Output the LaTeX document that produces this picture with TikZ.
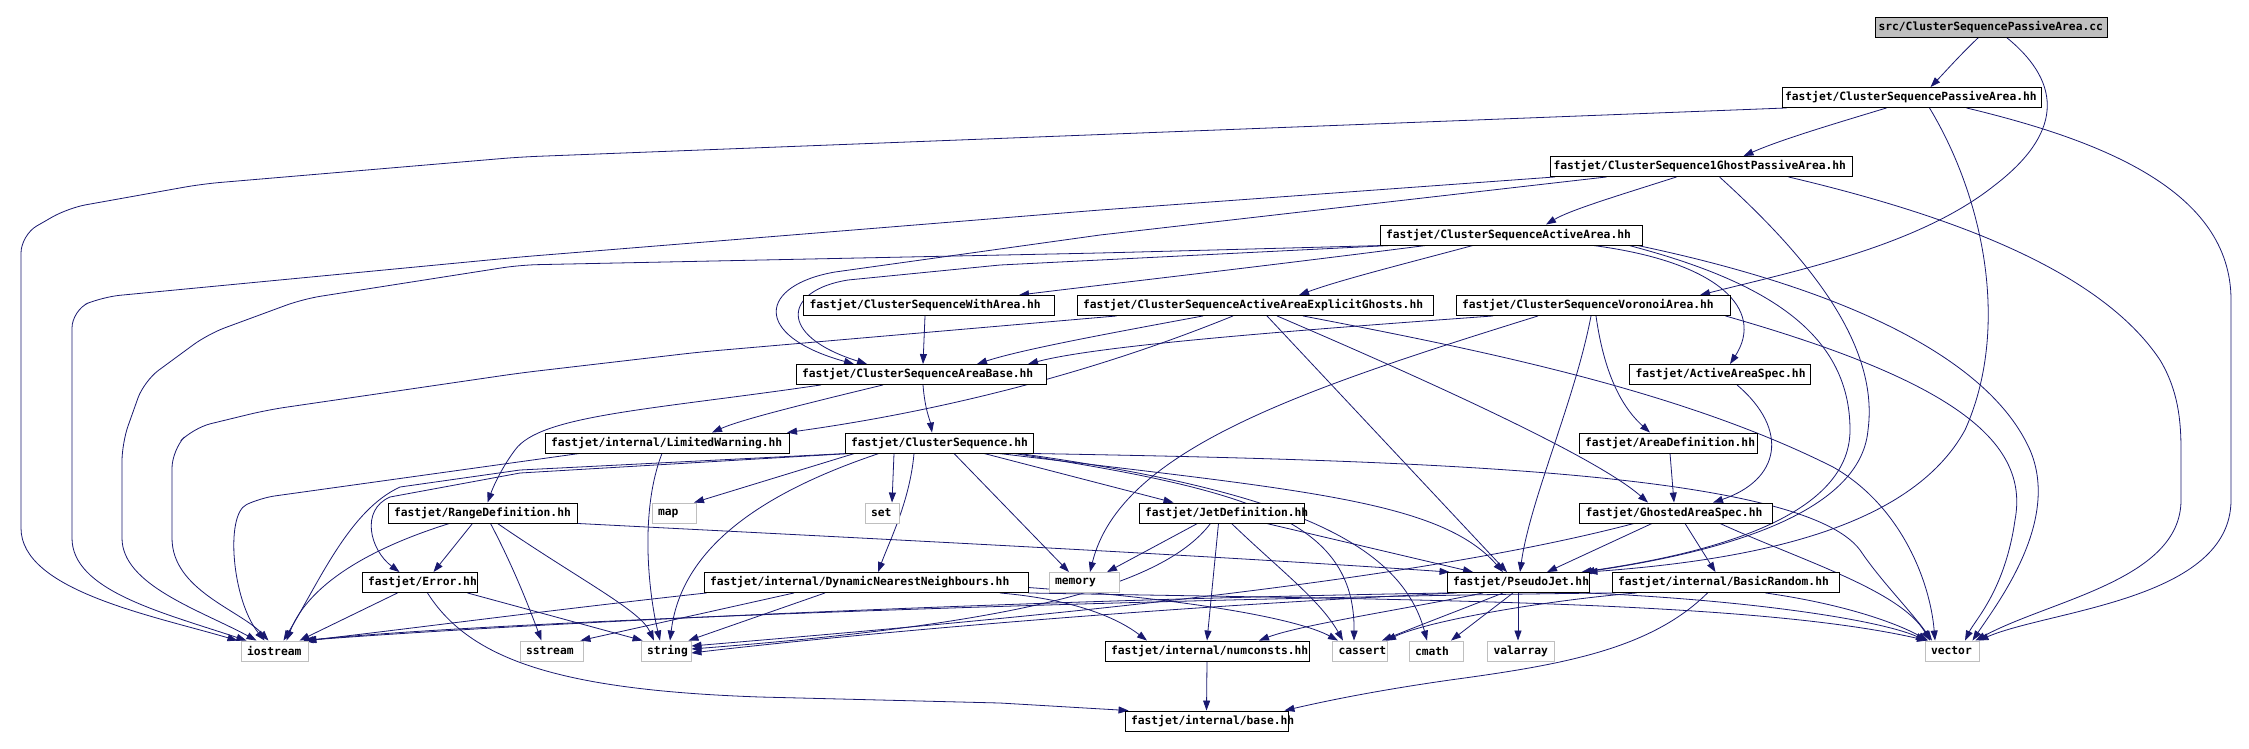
\documentclass[tikz,border=0pt]{standalone}
\usepackage{fontspec}
\newfontfamily\dxfont{DejaVu Sans Mono}
\usetikzlibrary{arrows.meta}
\pgfdeclarelayer{bg}
\pgfsetlayers{bg,main}
\definecolor{edgeblue}{HTML}{191970}
\definecolor{srcgray}{HTML}{BFBFBF}
\newcommand\nbx[2]{\makebox[#1pt][l]{#2}}
\tikzset{
  nb/.style={draw=black, line width=0.9pt, fill=white, minimum height=20pt,
    inner xsep=6pt, inner ysep=0pt, font=\dxfont\bfseries\fontsize{11.3}{13}\selectfont},
  ng/.style={nb, draw=srcgray},
  ns/.style={nb, fill=srcgray},
  tight/.style={inner xsep=3pt},
  e/.style={draw=edgeblue, line width=0.8pt, -{Triangle[length=10pt,width=7pt]}},
}
\begin{document}
\begin{tikzpicture}[x=1pt,y=-1pt]
\useasboundingbox (0,0) rectangle (2249,748);
% ---------- nodes ----------
\node[ns, tight] (src) at (1991.5,27) {\nbx{226}{src/ClusterSequencePassiveArea.cc}};
\node[nb, tight] (pa) at (1911.5,97.5) {\nbx{253}{fastjet/ClusterSequencePassiveArea.hh}};
\node[nb, tight] (g1) at (1701.5,166.5) {\nbx{296}{fastjet/ClusterSequence1GhostPassiveArea.hh}};
\node[nb] (aa) at (1511,235) {\nbx{250}{fastjet/ClusterSequenceActiveArea.hh}};
\node[nb] (wa) at (929,305.5) {\nbx{239}{fastjet/ClusterSequenceWithArea.hh}};
\node[nb] (eg) at (1255,305.5) {\nbx{344}{fastjet/ClusterSequenceActiveAreaExplicitGhosts.hh}};
\node[nb] (vo) at (1593,305.5) {\nbx{262}{fastjet/ClusterSequenceVoronoiArea.hh}};
\node[nb] (ab) at (921,374.5) {\nbx{238}{fastjet/ClusterSequenceAreaBase.hh}};
\node[nb] (aas) at (1720,374.5) {\nbx{169}{fastjet/ActiveAreaSpec.hh}};
\node[nb] (lw) at (667,443) {\nbx{232}{fastjet/internal/LimitedWarning.hh}};
\node[nb] (cs) at (939,443) {\nbx{176}{fastjet/ClusterSequence.hh}};
\node[nb] (ad) at (1668,443) {\nbx{166}{fastjet/AreaDefinition.hh}};
\node[nb] (rd) at (482.5,513) {\nbx{177}{fastjet/RangeDefinition.hh}};
\node[ng] (map) at (674,513) {\nbx{32}{map}};
\node[ng] (set) at (882,513) {\nbx{22}{set}};
\node[nb] (jd) at (1221.5,513) {\nbx{153}{fastjet/JetDefinition.hh}};
\node[nb] (gas) at (1676,513) {\nbx{181}{fastjet/GhostedAreaSpec.hh}};
\node[nb] (err) at (419.5,582.5) {\nbx{103}{fastjet/Error.hh}};
\node[nb] (dnn) at (866,582.5) {\nbx{312}{fastjet/internal/DynamicNearestNeighbours.hh}};
\node[ng] (mem) at (1084,582.5) {\nbx{58}{memory}};
\node[nb] (pj) at (1518,582.5) {\nbx{130}{fastjet/PseudoJet.hh}};
\node[nb] (br) at (1725.5,582.5) {\nbx{215}{fastjet/internal/BasicRandom.hh}};
\node[ng] (ios) at (274.5,651) {\nbx{55}{iostream}};
\node[ng] (ss) at (551.5,651) {\nbx{51}{sstream}};
\node[ng] (str) at (666,651) {\nbx{38}{string}};
\node[nb] (nc) at (1207,651) {\nbx{192}{fastjet/internal/numconsts.hh}};
\node[ng] (cas) at (1360,651) {\nbx{43}{cassert}};
\node[ng] (cm) at (1436,651) {\nbx{42}{cmath}};
\node[ng] (va) at (1521,651) {\nbx{55}{valarray}};
\node[ng] (vec) at (1952,651) {\nbx{42}{vector}};
\node[nb] (base) at (1206.5,721) {\nbx{151}{fastjet/internal/base.hh}};
% ---------- edges ----------
\begin{pgfonlayer}{bg}
\fill[white] (0,0) rectangle (2249,748);
% src
\draw[e] ([xshift=-13pt]src.south) .. controls (1960,55) and (1945,72) .. ([xshift=19pt]pa.north);
\draw[e] ([xshift=15pt]src.south) .. controls (2065,85) and (2060,135) .. (1995,185) .. controls (1920,245) and (1800,270) .. ([xshift=107pt]vo.north);
% pa
\draw[e] ([xshift=-25pt]pa.south) .. controls (1830,125) and (1780,140) .. ([xshift=42pt]g1.north);
\draw[e, rounded corners=18pt] ([xshift=5pt]pa.south west) -- (520,157) -- (202,184) -- (68,208) -- (21,235) -- (21,510) .. controls (21,590) and (150,615) .. ([xshift=-37pt]ios.north);
\draw[e] ([xshift=18pt]pa.south) .. controls (1985,200) and (2010,330) .. (1965,430) .. controls (1910,530) and (1750,560) .. ([xshift=-2pt]pj.north east);
\draw[e] ([xshift=55pt]pa.south) .. controls (2100,140) and (2231,190) .. (2231,300) -- (2231,500) .. controls (2231,600) and (2050,610) .. ([xshift=-1pt]vec.north east);
% g1
\draw[e, rounded corners=18pt] ([xshift=5pt]g1.south west) -- (1100,210) -- (520,257) -- (102,297) -- (72,310) -- (72,520) .. controls (72,590) and (160,612) .. ([xshift=-28pt]ios.north);
\draw[e] ([xshift=-95pt]g1.south) -- (1100,235) -- (835,272) .. controls (760,285) and (750,335) .. ([xshift=-67pt]ab.north);
\draw[e] ([xshift=-25pt]g1.south) .. controls (1620,195) and (1570,210) .. ([xshift=35pt]aa.north);
\draw[e] ([xshift=18pt]g1.south) .. controls (1800,250) and (1880,340) .. (1868,430) .. controls (1860,520) and (1700,555) .. ([xshift=-5pt]pj.north east);
\draw[e] ([xshift=87pt]g1.south) .. controls (1950,215) and (2100,270) .. (2160,360) .. controls (2178,390) and (2181,420) .. (2181,450) -- (2181,500) .. controls (2181,580) and (2050,600) .. ([xshift=-4pt]vec.north east);
% aa
\draw[e, rounded corners=18pt] ([xshift=5pt]aa.south west) -- (1100,253) -- (520,265) -- (303,299) -- (208,334) -- (144,381) -- (122,443) -- (122,520) .. controls (122,585) and (200,610) .. ([xshift=-18pt]ios.north);
\draw[e] ([xshift=-120pt]aa.south) -- (1000,265) -- (848,280) .. controls (785,290) and (775,335) .. ([xshift=-54pt]ab.north);
\draw[e] ([xshift=-85pt]aa.south) .. controls (1250,268) and (1100,285) .. ([xshift=90pt]wa.north);
\draw[e] ([xshift=-38pt]aa.south) .. controls (1400,265) and (1340,280) .. ([xshift=44pt]eg.north);
\draw[e] ([xshift=82pt]aa.south) .. controls (1720,262) and (1765,310) .. ([xshift=10pt]aas.north);
\draw[e] ([xshift=118pt]aa.south) .. controls (1760,280) and (1850,330) .. (1850,430) .. controls (1850,520) and (1700,555) .. ([xshift=-8pt]pj.north east);
\draw[e] ([xshift=-5pt]aa.south east) .. controls (1850,290) and (1990,360) .. (2030,450) .. controls (2060,520) and (2000,600) .. ([xshift=-7pt]vec.north east);
% wa
\draw[e] ([xshift=-4pt]wa.south) -- ([xshift=2pt]ab.north);
% eg
\draw[e, rounded corners=18pt] ([xshift=40pt]eg.south west) -- (700,352) -- (520,373) -- (267,410) -- (193,428) -- (172,450) -- (172,520) .. controls (172,590) and (240,610) .. ([xshift=-6pt]ios.north);
\draw[e] ([xshift=-52pt]eg.south) .. controls (1100,335) and (1020,350) .. ([xshift=56pt]ab.north);
\draw[e] ([xshift=-22pt]eg.south) .. controls (1100,370) and (950,410) .. ([xshift=120pt]lw.north);
\draw[e] ([xshift=12pt]eg.south) -- ([xshift=-11pt]pj.north);
\draw[e] ([xshift=22pt]eg.south) .. controls (1450,390) and (1600,460) .. ([xshift=-28pt]gas.north);
\draw[e] ([xshift=48pt]eg.south) .. controls (1480,350) and (1680,390) .. (1833,467) .. controls (1900,505) and (1930,580) .. ([xshift=-17pt]vec.north);
% vo
\draw[e] ([xshift=-100pt]vo.south) .. controls (1300,330) and (1100,345) .. ([xshift=107pt]ab.north);
\draw[e] ([xshift=-55pt]vo.south) .. controls (1300,390) and (1120,450) .. ([xshift=6pt]mem.north);
\draw[e] ([xshift=-2pt]vo.south) .. controls (1575,400) and (1530,500) .. ([xshift=2pt]pj.north);
\draw[e] ([xshift=3pt]vo.south) .. controls (1605,380) and (1625,410) .. ([xshift=-18pt]ad.north);
\draw[e] ([xshift=-5pt]vo.south east) .. controls (1950,380) and (2030,440) .. (2015,520) .. controls (2005,590) and (1975,620) .. ([xshift=13pt]vec.north);
% aas, ad
\draw[e] ([xshift=17pt]aas.south) .. controls (1790,430) and (1780,480) .. ([xshift=37pt]gas.north);
\draw[e] ([xshift=2pt]ad.south) -- ([xshift=-2pt]gas.north);
% ab
\draw[e] ([xshift=2pt]ab.south) .. controls (925,410) and (930,420) .. ([xshift=-7pt]cs.north);
\draw[e] ([xshift=-38pt]ab.south) .. controls (800,405) and (740,420) .. ([xshift=45pt]lw.north);
\draw[e] ([xshift=-100pt]ab.south) .. controls (650,410) and (540,415) .. (515,450) .. controls (500,470) and (492,490) .. ([xshift=5pt]rd.north);
% lw
\draw[e] ([xshift=-5pt]lw.south) .. controls (640,510) and (648,590) .. ([xshift=-6pt]str.north);
\draw[e, rounded corners=15pt] ([xshift=35pt]lw.south west) -- (260,498) .. controls (225,515) and (232,600) .. ([xshift=-10pt]ios.north);
% cs
\draw[e] ([xshift=3pt]cs.south west) -- (520,470) -- (400,487) .. controls (350,510) and (320,580) .. ([xshift=9pt]ios.north);
\draw[e] ([xshift=6pt]cs.south west) -- (520,473) -- (390,497) .. controls (360,510) and (370,550) .. ([xshift=-20pt]err.north);
\draw[e] ([xshift=10pt]cs.south west) -- ([xshift=20pt]map.north);
\draw[e] ([xshift=-45pt]cs.south) -- ([xshift=10pt]set.north);
\draw[e] ([xshift=-60pt]cs.south) .. controls (740,500) and (680,560) .. ([xshift=4pt]str.north);
\draw[e] ([xshift=-25pt]cs.south) .. controls (910,500) and (890,540) .. ([xshift=12pt]dnn.north);
\draw[e] ([xshift=15pt]cs.south) -- ([xshift=-15pt]mem.north);
\draw[e] ([xshift=45pt]cs.south) -- ([xshift=-48pt]jd.north);
\draw[e] ([xshift=60pt]cs.south) .. controls (1300,490) and (1440,500) .. ([xshift=-15pt]pj.north);
\draw[e] ([xshift=75pt]cs.south) .. controls (1250,490) and (1355,520) .. ([xshift=-6pt]cas.north);
\draw[e] ([xshift=80pt]cs.south) .. controls (1280,490) and (1400,540) .. ([xshift=-9pt]cm.north);
\draw[e] ([xshift=-3pt]cs.south east) .. controls (1400,460) and (1800,470) .. (1860,550) .. controls (1880,580) and (1910,610) .. ([xshift=-20pt]vec.north);
% rd
\draw[e] ([xshift=-33pt]rd.south) .. controls (380,545) and (310,580) .. ([xshift=12pt]ios.north);
\draw[e] ([xshift=-10pt]rd.south) -- ([xshift=14pt]err.north);
\draw[e] ([xshift=8pt]rd.south) .. controls (515,570) and (530,610) .. ([xshift=-10pt]ss.north);
\draw[e] ([xshift=15pt]rd.south) .. controls (580,580) and (640,610) .. ([xshift=-12pt]str.north);
\draw[e] (rd.south east) .. controls (900,540) and (1200,555) .. ([xshift=3pt]pj.north west);
% err
\draw[e] ([xshift=-22pt]err.south) -- ([xshift=25pt]ios.north);
\draw[e] ([xshift=-10pt]err.south east) -- ([xshift=2pt]str.north west);
\draw[e] ([xshift=8pt]err.south) .. controls (470,660) and (560,690) .. (760,697) -- (1000,703) -- ([xshift=4pt]base.north west);
% dnn
\draw[e] ([xshift=3pt]dnn.south west) .. controls (550,610) and (400,630) .. ([xshift=-2pt]ios.north east);
\draw[e] ([xshift=-72pt]dnn.south) -- ([xshift=-3pt]ss.north east);
\draw[e] ([xshift=-41pt]dnn.south) -- ([xshift=-3pt]str.north east);
\draw[e] ([xshift=134pt]dnn.south) .. controls (1080,600) and (1120,620) .. ([xshift=-60pt]nc.north);
\draw[e] ([yshift=-5pt]dnn.east) .. controls (1200,600) and (1300,620) .. ([xshift=-22pt]cas.north);
\draw[e] (dnn.south east) .. controls (1400,600) and (1750,600) .. ([xshift=-25pt]vec.north);
% jd
\draw[e] ([xshift=-24pt]jd.south) -- ([xshift=23pt]mem.north);
\draw[e] ([xshift=-11pt]jd.south) .. controls (1160,590) and (1000,625) .. ([yshift=2pt]str.east);
\draw[e] ([xshift=-3pt]jd.south) -- (nc.north);
\draw[e] ([xshift=10pt]jd.south) .. controls (1280,570) and (1320,600) .. ([xshift=-17pt]cas.north);
\draw[e] ([xshift=45pt]jd.south) -- ([xshift=-45pt]pj.north);
% pj
\draw[e] ([xshift=3pt]pj.south west) .. controls (1000,600) and (500,625) .. ([xshift=-5pt]ios.north east);
\draw[e] ([xshift=10pt]pj.south west) .. controls (1100,610) and (800,640) .. ([yshift=-2pt]str.east);
\draw[e] ([xshift=-35pt]pj.south) .. controls (1400,610) and (1300,625) .. ([xshift=52pt]nc.north);
\draw[e] ([xshift=-15pt]pj.south) .. controls (1460,610) and (1420,625) .. ([xshift=22pt]cas.north);
\draw[e] ([xshift=-5pt]pj.south) -- ([xshift=15pt]cm.north);
\draw[e] (pj.south) -- ([xshift=-3pt]va.north);
\draw[e] ([xshift=-3pt]pj.south east) .. controls (1750,600) and (1880,620) .. ([xshift=-26pt]vec.north);
% br
\draw[e] ([xshift=3pt]br.south west) .. controls (1200,597) and (500,620) .. ([xshift=-3pt]ios.north east);
\draw[e] ([xshift=25pt]br.south west) .. controls (1550,600) and (1430,620) .. ([xshift=26pt]cas.north);
\draw[e] ([xshift=40pt]br.south) .. controls (1850,605) and (1900,625) .. ([xshift=-24pt]vec.north);
\draw[e] ([xshift=-18pt]br.south) .. controls (1650,650) and (1560,665) .. (1450,680) .. controls (1380,690) and (1330,700) .. ([xshift=-4pt]base.north east);
% gas
\draw[e] ([xshift=-24pt]gas.south) -- ([xshift=29pt]pj.north);
\draw[e] ([xshift=-42pt]gas.south) .. controls (1400,585) and (1000,620) .. ([yshift=5pt]str.east);
\draw[e] ([xshift=9pt]gas.south) -- ([xshift=-10pt]br.north);
\draw[e] ([xshift=44pt]gas.south) .. controls (1800,560) and (1900,590) .. ([xshift=-22pt]vec.north);
% nc
\draw[e] (nc.south) -- (base.north);
\end{pgfonlayer}
\end{tikzpicture}
\end{document}
